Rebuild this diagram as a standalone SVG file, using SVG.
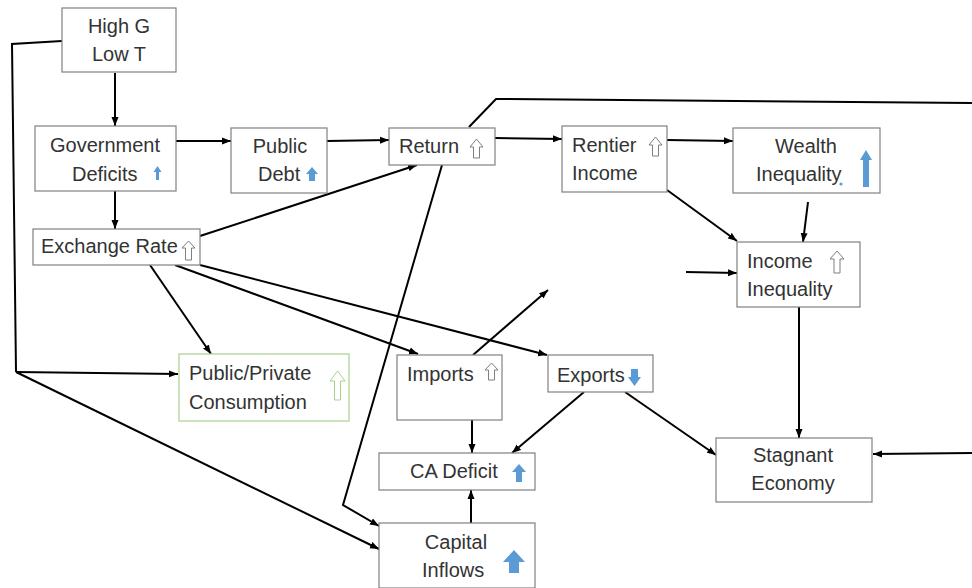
<svg xmlns="http://www.w3.org/2000/svg" width="972" height="588" viewBox="0 0 972 588">
<defs>
<marker id="ah" markerUnits="userSpaceOnUse" markerWidth="10" markerHeight="8" refX="9" refY="4" orient="auto">
<path d="M0,0.5 L9,4 L0,7.5 Z" fill="#000"/>
</marker>
</defs>
<style>
.box{fill:#fff;stroke:#808080;stroke-width:1.2}
.gbox{fill:#fff;stroke:#a9d18e;stroke-width:1.2}
.t{font-family:"Liberation Sans",Arial,sans-serif;font-size:20px;fill:#333}
.c{stroke:#000;stroke-width:2;fill:none}
.a{marker-end:url(#ah)}
.blue{fill:#5b9bd5}
.wa{fill:#fff;stroke:#7f7f7f;stroke-width:1}
.ga{fill:#fff;stroke:#a9d18e;stroke-width:1}
</style>
<rect width="972" height="588" fill="#fff"/>
<g id="connectors">
<line class="c a" x1="115" y1="73" x2="115" y2="126"/>
<polyline class="c" points="62,41 12,44 16,372"/>
<line class="c a" x1="16" y1="372" x2="178" y2="374"/>
<line class="c a" x1="16" y1="372" x2="379" y2="549"/>
<line class="c a" x1="176" y1="141" x2="231" y2="141"/>
<line class="c a" x1="115" y1="191" x2="115" y2="229"/>
<line class="c a" x1="327" y1="141" x2="389" y2="140"/>
<line class="c a" x1="200" y1="236" x2="417" y2="165"/>
<line class="c a" x1="495" y1="138" x2="562" y2="139"/>
<polyline class="c" points="469,127 496,99 972,103"/>
<line class="c a" x1="972" y1="453" x2="873" y2="454"/>
<line class="c a" x1="667" y1="140" x2="733" y2="141"/>
<line class="c a" x1="667" y1="190" x2="737" y2="241"/>
<line class="c a" x1="808" y1="202" x2="803" y2="242"/>
<line class="c a" x1="686" y1="272" x2="737" y2="273"/>
<line class="c a" x1="799" y1="307" x2="799" y2="438"/>
<polyline class="c a" points="442,165 343,505 379,526"/>
<line class="c a" x1="150" y1="265" x2="211" y2="354"/>
<line class="c a" x1="175" y1="265" x2="418" y2="354"/>
<line class="c a" x1="200" y1="265" x2="547" y2="355"/>
<line class="c a" x1="473" y1="355" x2="548" y2="290"/>
<line class="c a" x1="472" y1="420" x2="472" y2="453"/>
<line class="c a" x1="584" y1="392" x2="512" y2="453"/>
<line class="c a" x1="625" y1="392" x2="716" y2="455"/>
<line class="c a" x1="471" y1="523" x2="471" y2="490"/>
</g>
<g id="highG">
<rect class="box" x="62" y="8" width="114" height="64"/>
<text class="t" x="119" y="33" text-anchor="middle">High G</text>
<text class="t" x="119" y="61" text-anchor="middle">Low T</text>
</g>
<g id="govDeficits">
<rect class="box" x="35" y="126" width="141" height="65"/>
<text class="t" x="105" y="152" text-anchor="middle">Government</text>
<text class="t" x="72" y="181">Deficits</text>
<polygon class="blue" points="157.5,166 161.5,172 159,172 159,180 156,180 156,172 153.5,172"/>
</g>
<g id="publicDebt">
<rect class="box" x="231" y="128" width="96" height="65"/>
<text class="t" x="280" y="153" text-anchor="middle">Public</text>
<text class="t" x="258" y="181">Debt</text>
<polygon class="blue" points="312,167 318,174 315,174 315,181 309,181 309,174 306,174"/>
</g>
<g id="return">
<rect class="box" x="389" y="128" width="106" height="37"/>
<text class="t" x="399" y="153">Return</text>
<polygon class="wa" points="476.5,139 483,147 479.5,147 479.5,158 473.5,158 473.5,147 470,147"/>
</g>
<g id="rentier">
<rect class="box" x="562" y="126" width="105" height="66"/>
<text class="t" x="572" y="152">Rentier</text>
<text class="t" x="572" y="180">Income</text>
<polygon class="wa" points="655.5,137 662,145 658.5,145 658.5,156 652.5,156 652.5,145 649,145"/>
</g>
<g id="wealth">
<rect class="box" x="733" y="128" width="147" height="65"/>
<text class="t" x="806" y="153" text-anchor="middle">Wealth</text>
<text class="t" x="756" y="181">Inequality</text>
<circle class="blue" cx="841" cy="184" r="1.6"/>
<polygon class="blue" points="866,150 872,160 869,160 869,187 863,187 863,160 860,160"/>
</g>
<g id="exchangeRate">
<rect class="box" x="33" y="229" width="167" height="36"/>
<text class="t" x="41" y="253">Exchange Rate</text>
<polygon class="wa" points="188.5,241 195,248 191.5,248 191.5,260 185.5,260 185.5,248 182,248"/>
</g>
<g id="incomeInequality">
<rect class="box" x="737" y="242" width="123" height="65"/>
<text class="t" x="747" y="268">Income</text>
<text class="t" x="747" y="296">Inequality</text>
<polygon class="wa" points="837,251 844,259 840,259 840,273 834,273 834,259 830,259"/>
</g>
<g id="consumption">
<rect class="gbox" x="179" y="354" width="170" height="67"/>
<text class="t" x="189" y="380">Public/Private</text>
<text class="t" x="189" y="409">Consumption</text>
<polygon class="ga" points="337.5,371 345,381 340.5,381 340.5,400 334.5,400 334.5,381 330,381"/>
</g>
<g id="imports">
<rect class="box" x="397" y="355" width="105" height="65"/>
<text class="t" x="407" y="381">Imports</text>
<polygon class="wa" points="491.5,363 498,370 494.5,370 494.5,380 488.5,380 488.5,370 485,370"/>
</g>
<g id="exports">
<rect class="box" x="548" y="355" width="105" height="37"/>
<text class="t" x="557" y="382">Exports</text>
<polygon class="blue" points="631,369 638,369 638,377 641,377 634.5,386 628,377 631,377"/>
</g>
<g id="caDeficit">
<rect class="box" x="379" y="453" width="156" height="37"/>
<text class="t" x="410" y="478">CA Deficit</text>
<polygon class="blue" points="519,464 526,472 522,472 522,482 516,482 516,472 512,472"/>
</g>
<g id="capitalInflows">
<rect class="box" x="379" y="523" width="156" height="65"/>
<text class="t" x="456" y="549" text-anchor="middle">Capital</text>
<text class="t" x="422" y="577">Inflows</text>
<polygon class="blue" points="514,550 525,562 519,562 519,573 509,573 509,562 503,562"/>
</g>
<g id="stagnant">
<rect class="box" x="716" y="438" width="156" height="64"/>
<text class="t" x="793" y="462" text-anchor="middle">Stagnant</text>
<text class="t" x="793" y="490" text-anchor="middle">Economy</text>
</g>
</svg>
